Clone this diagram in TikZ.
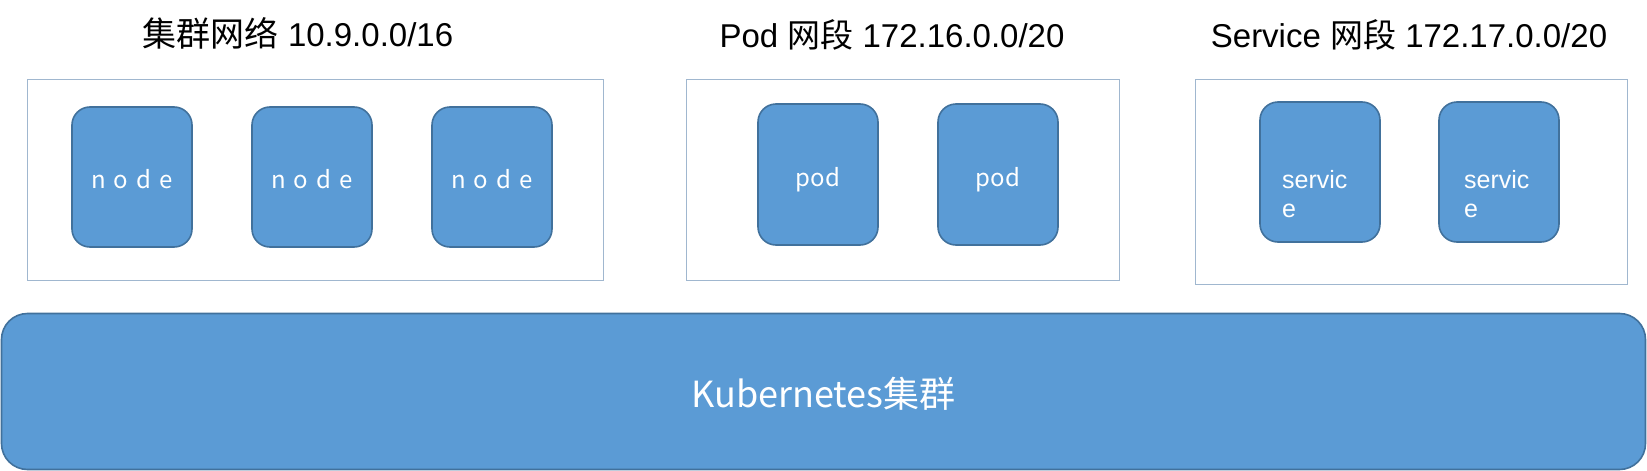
\documentclass[tikz,border=0pt]{standalone}
\usepackage{fontspec}
\setmainfont{Liberation Sans}
\newfontfamily\cjk{Noto Sans CJK SC}
\definecolor{boxfill}{HTML}{5B9BD5}
\definecolor{boxline}{HTML}{41719C}
\definecolor{outerline}{HTML}{A0B7CF}
\newcommand{\spacedword}{n\hspace{8pt}o\hspace{8pt}d\hspace{8pt}e}
\begin{document}
\begin{tikzpicture}[x=1pt,y=-1pt,
  outerbox/.style={draw=outerline, line width=1pt, inner sep=0pt, rectangle},
  itembox/.style={draw=boxline, fill=boxfill, line width=1.6pt, rounded corners=18pt,
    minimum width=120pt, inner sep=0pt, text=white, text height=41pt, text depth=18pt,
    font=\cjk\fontsize{24}{28}\selectfont},
  titletext/.style={anchor=base, inner sep=0pt, font=\fontsize{33}{39}\selectfont},
  svctext/.style={anchor=north west, inner sep=0pt, align=left, text=white,
    font=\fontsize{25}{29}\selectfont}
]
\useasboundingbox (0,0) rectangle (1647,471);

% titles
\node[titletext] (t1) at (298,46) {{\cjk\fontsize{34}{39}\selectfont 集群网络} 10.9.0.0/16};
\node[titletext] (t2) at (892,47) {Pod {\cjk 网段} 172.16.0.0/20};
\node[titletext] (t3) at (1409,47) {Service {\cjk 网段} 172.17.0.0/20};

% outer boxes
\node[outerbox, minimum width=576pt, minimum height=201pt] (b1) at (315,179.5) {};
\node[outerbox, minimum width=433pt, minimum height=201pt] (b2) at (902.5,179.5) {};
\node[outerbox, minimum width=432pt, minimum height=205pt] (b3) at (1411,181.5) {};

% nodes
\node[itembox, minimum height=140pt] (n1) at (132,177) {\spacedword};
\node[itembox, minimum height=140pt] (n2) at (312,177) {\spacedword};
\node[itembox, minimum height=140pt] (n3) at (492,177) {\spacedword};

% pods
\node[itembox, minimum height=141pt] (p1) at (818,174.5) {pod};
\node[itembox, minimum height=141pt] (p2) at (998,174.5) {pod};

% services
\node[itembox, minimum height=140pt] (s1) at (1320,172) {};
\node[itembox, minimum height=140pt] (s2) at (1499,172) {};
\node[svctext] (s1t) at (1282,170) {servic\\e};
\node[svctext] (s2t) at (1464,170) {servic\\e};

% kubernetes cluster bar
\node[draw=boxline, fill=boxfill, line width=1.6pt, rounded corners=26pt,
  minimum width=1644pt, minimum height=156pt, inner sep=0pt, text=white,
  text height=36pt, text depth=5pt,
  font=\cjk\fontsize{36}{44}\selectfont] (k8s) at (823.5,391.5) {Kubernetes集群};
\end{tikzpicture}
\end{document}
